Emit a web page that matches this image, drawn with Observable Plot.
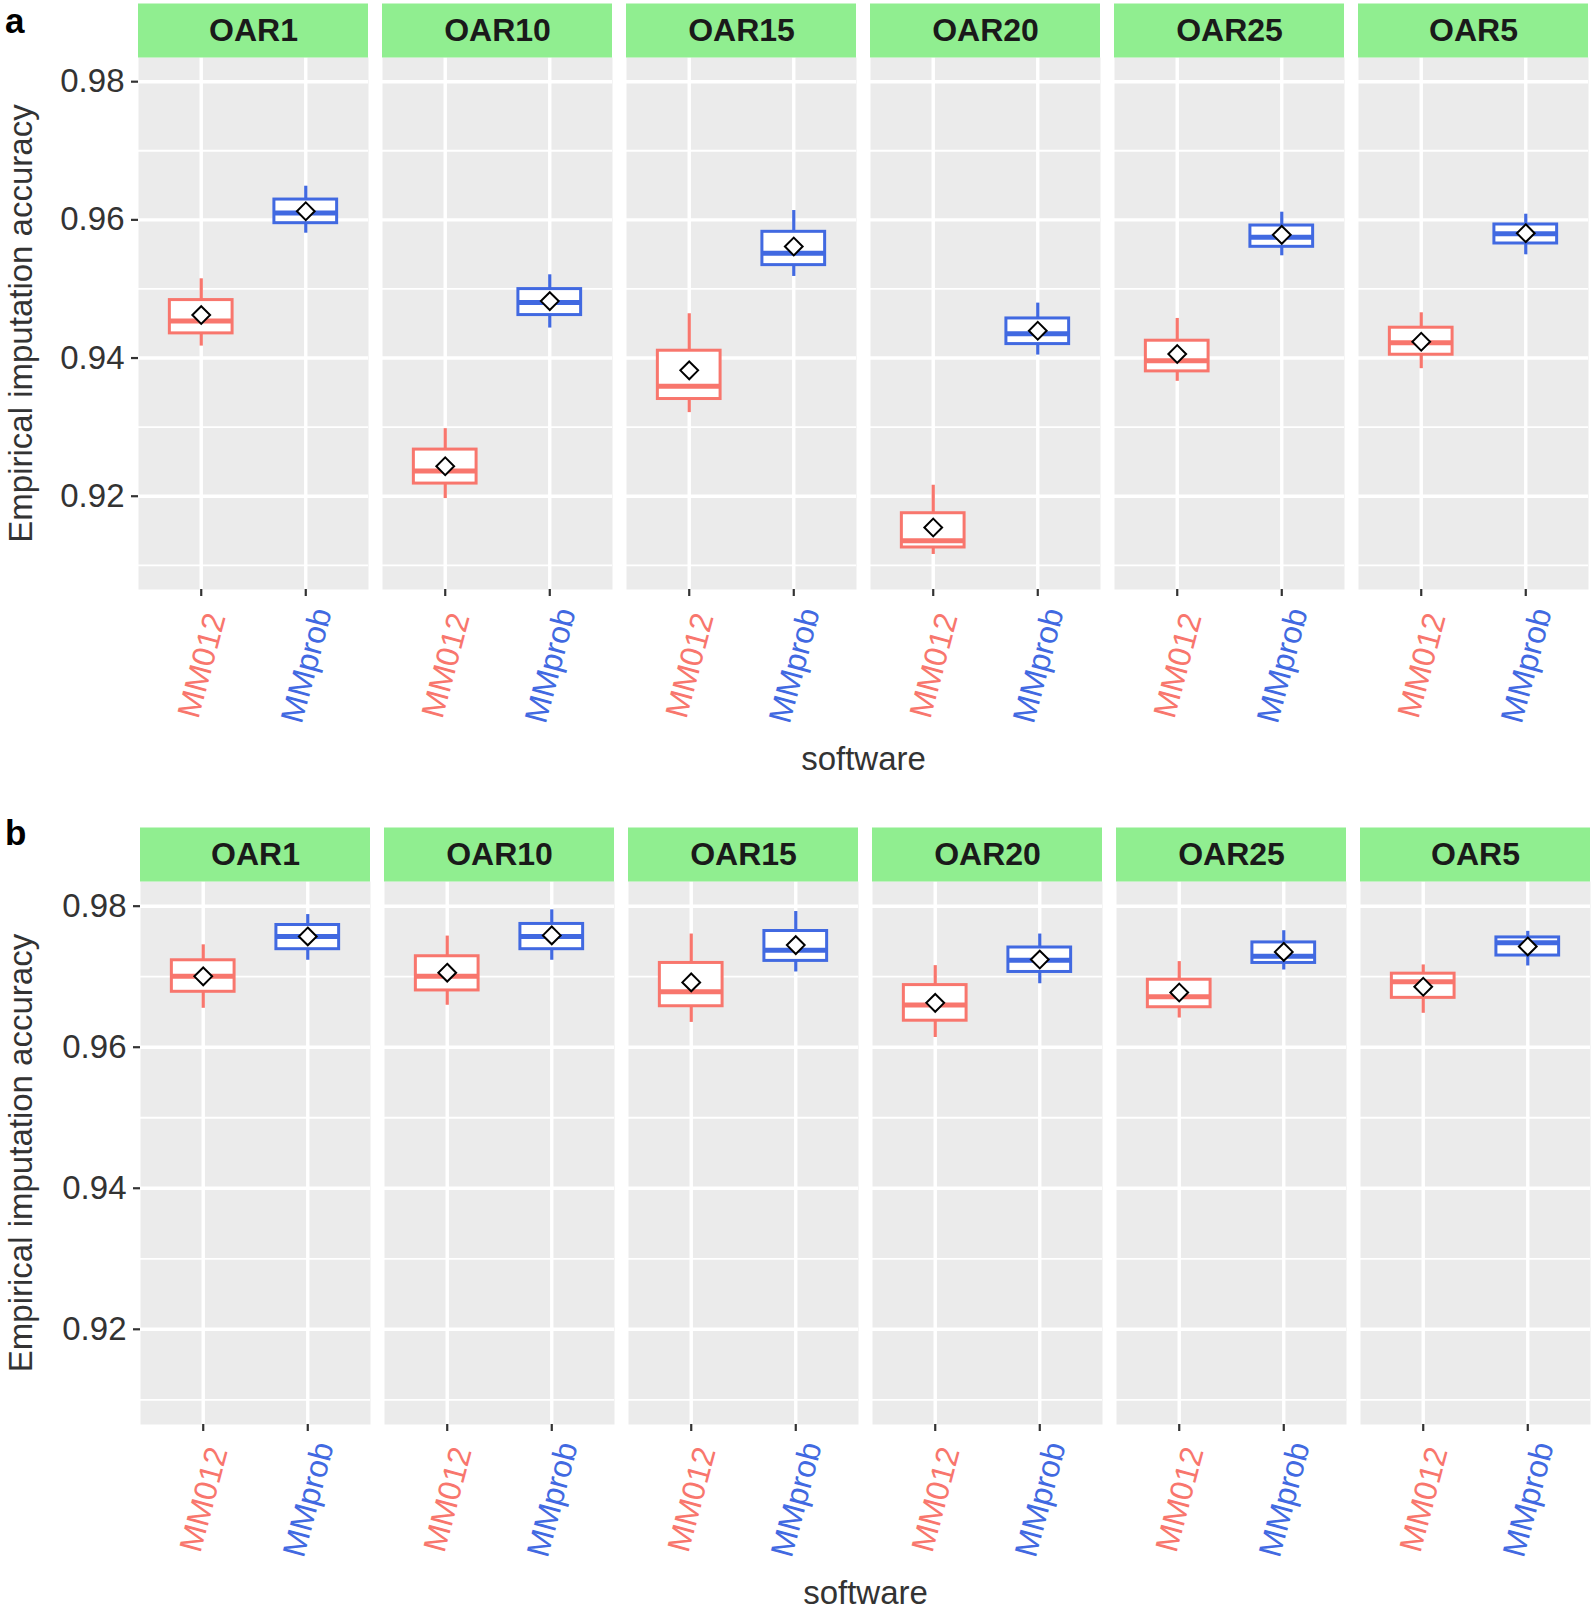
<!DOCTYPE html>
<html>
<head>
<meta charset="utf-8">
<script src="https://cdn.jsdelivr.net/npm/d3@7"></script>
<script src="https://cdn.jsdelivr.net/npm/@observablehq/plot@0.6"></script>
<style>
  body { margin: 0; background: #fff; }
  #wrap { position: relative; width: 1595px; height: 1612px; overflow: hidden; font-family: "Liberation Sans", Arial, sans-serif; }
  .panel { position: absolute; left: 0; }
  .letter { position: absolute; left: 5px; font-weight: bold; font-size: 35px; line-height: 35px; color: #000; }
</style>
</head>
<body>
<div id="wrap"></div>
<script>
// ---- data ----
const chromosomes = ["OAR1", "OAR10", "OAR15", "OAR20", "OAR25", "OAR5"];
const software = ["MM012", "MMprob"];
const softwareColors = ["#F8766D", "#4169E1"];
const yTicks = [0.92, 0.94, 0.96, 0.98];
const yMinor = [0.91, 0.93, 0.95, 0.97];
const yDomain = [0.9065, 0.9835];

// panel a (order: chromosome, then MM012 / MMprob)
const aLow    = [0.94173, 0.95807, 0.91966, 0.94434, 0.93210, 0.95181, 0.91157, 0.94043, 0.93663, 0.95480, 0.93846, 0.95494];
const aQ1     = [0.94357, 0.95952, 0.92183, 0.94622, 0.93407, 0.95345, 0.91258, 0.94202, 0.93807, 0.95610, 0.94048, 0.95658];
const aMedian = [0.94535, 0.96101, 0.92366, 0.94805, 0.93590, 0.95518, 0.91354, 0.94352, 0.93961, 0.95749, 0.94222, 0.95798];
const aQ3     = [0.94839, 0.96294, 0.92675, 0.94998, 0.94106, 0.95827, 0.91754, 0.94573, 0.94251, 0.95918, 0.94439, 0.95933];
const aHigh   = [0.95147, 0.96487, 0.92978, 0.95205, 0.94641, 0.96135, 0.92159, 0.94795, 0.94573, 0.96111, 0.94655, 0.96082];
const aMean   = [0.94622, 0.96125, 0.92434, 0.94824, 0.93822, 0.95614, 0.91547, 0.94395, 0.94058, 0.95783, 0.94236, 0.95807];

// panel b
const bLow    = [0.96552, 0.97233, 0.96595, 0.97233, 0.96352, 0.97067, 0.96138, 0.96900, 0.96414, 0.97095, 0.96481, 0.97152];
const bQ1     = [0.96786, 0.97390, 0.96805, 0.97390, 0.96581, 0.97224, 0.96376, 0.97067, 0.96567, 0.97195, 0.96700, 0.97300];
const bMedian = [0.97005, 0.97571, 0.97005, 0.97571, 0.96786, 0.97376, 0.96600, 0.97233, 0.96714, 0.97290, 0.96929, 0.97481];
const bQ3     = [0.97233, 0.97733, 0.97290, 0.97748, 0.97195, 0.97648, 0.96881, 0.97414, 0.96957, 0.97486, 0.97043, 0.97557];
const bHigh   = [0.97452, 0.97881, 0.97576, 0.97948, 0.97605, 0.97924, 0.97157, 0.97605, 0.97214, 0.97652, 0.97167, 0.97643];
const bMean   = [0.97005, 0.97571, 0.97057, 0.97586, 0.96919, 0.97448, 0.96629, 0.97243, 0.96776, 0.97352, 0.96857, 0.97429];

function makeRows(low, q1, median, q3, high, mean) {
  return chromosomes.flatMap((chrom, i) => software.map((s, j) => {
    const k = i * software.length + j;
    return { chrom, software: s, idx: j, low: low[k], q1: q1[k], median: median[k], q3: q3[k], high: high[k], mean: mean[k] };
  }));
}

const FONT = '"Liberation Sans", Arial, sans-serif';
const BOX_HALF = 0.3;

function panel(rows, cfg) {
  return Plot.plot({
    width: 1595,
    height: cfg.height,
    marginTop: cfg.mt,
    marginBottom: cfg.mb,
    marginLeft: cfg.ml,
    marginRight: cfg.mr,
    style: { fontFamily: FONT, fontSize: "33px", color: "#333", background: "transparent", overflow: "visible" },
    fx: { domain: chromosomes, paddingInner: 0.0593, paddingOuter: 0 },
    x: { domain: [-0.6, 1.6] },
    y: { domain: yDomain },
    color: { domain: software, range: softwareColors },
    marks: [
      Plot.frame({ fill: "#EBEBEB", stroke: "none" }),
      Plot.ruleY(yMinor, { stroke: "white", strokeWidth: 1.8 }),
      Plot.ruleY(yTicks, { stroke: "white", strokeWidth: 3.4 }),
      Plot.ruleX([0, 1], { stroke: "white", strokeWidth: 3.4 }),
      Plot.ruleY([yDomain[1]], { stroke: "#90EE90", strokeWidth: 54, dy: -27 }),
      Plot.text(chromosomes, { fx: d => d, text: d => d, frameAnchor: "top", lineAnchor: "middle", dy: -27, fontWeight: "bold", fontSize: 32, fill: "#1A1A1A" }),
      Plot.ruleX(rows, { fx: "chrom", x: "idx", y1: "low", y2: "high", stroke: "software", strokeWidth: 3.2 }),
      Plot.rect(rows, { fx: "chrom", x1: d => d.idx - BOX_HALF, x2: d => d.idx + BOX_HALF, y1: "q1", y2: "q3", fill: "white", stroke: "software", strokeWidth: 3 }),
      Plot.ruleY(rows, { fx: "chrom", x1: d => d.idx - BOX_HALF, x2: d => d.idx + BOX_HALF, y: "median", stroke: "software", strokeWidth: 5 }),
      Plot.dot(rows, { fx: "chrom", x: "idx", y: "mean", symbol: "diamond2", r: 8, fill: "white", stroke: "black", strokeWidth: 2 }),
      Plot.text(rows, { fx: "chrom", x: "idx", frameAnchor: "bottom", text: "software", fill: "software", rotate: -75,
                        textAnchor: "middle", lineAnchor: "middle", dx: cfg.ldx, dy: cfg.ldy, fontSize: 32 }),
      Plot.axisX({ ticks: [0, 1], tickSize: 7, tickFormat: () => "", stroke: "#333", strokeWidth: 2.2, label: null }),
      Plot.axisY({ ticks: yTicks, tickFormat: d3.format(".2f"), tickSize: 7, tickPadding: 7, fontSize: 33, stroke: "#333", strokeWidth: 2.2,
                   label: "Empirical imputation accuracy", labelArrow: "none", labelAnchor: "center", labelOffset: cfg.ylo }),
      Plot.axisFx({ anchor: "bottom", tickSize: 0, tickFormat: () => "", label: "software", labelAnchor: "center", labelOffset: cfg.xlo, fontSize: 33 })
    ]
  });
}

const wrap = document.getElementById("wrap");

const plotA = panel(makeRows(aLow, aQ1, aMedian, aQ3, aHigh, aMean),
  { height: 790, mt: 57, mb: 201, ml: 136, mr: 6, ldx: 1, ldy: 76, xlo: 180, ylo: 130 });
plotA.classList.add("panel");
plotA.style.top = "0px";
wrap.appendChild(plotA);

const plotB = panel(makeRows(bLow, bQ1, bMedian, bQ3, bHigh, bMean),
  { height: 822, mt: 91, mb: 188, ml: 138, mr: 3, ldx: 1, ldy: 75, xlo: 179, ylo: 132 });
plotB.classList.add("panel");
plotB.style.top = "790px";
wrap.appendChild(plotB);

for (const [t, top] of [["a", 3], ["b", 815]]) {
  const el = document.createElement("div");
  el.className = "letter";
  el.textContent = t;
  el.style.top = top + "px";
  wrap.appendChild(el);
}
</script>
</body>
</html>
